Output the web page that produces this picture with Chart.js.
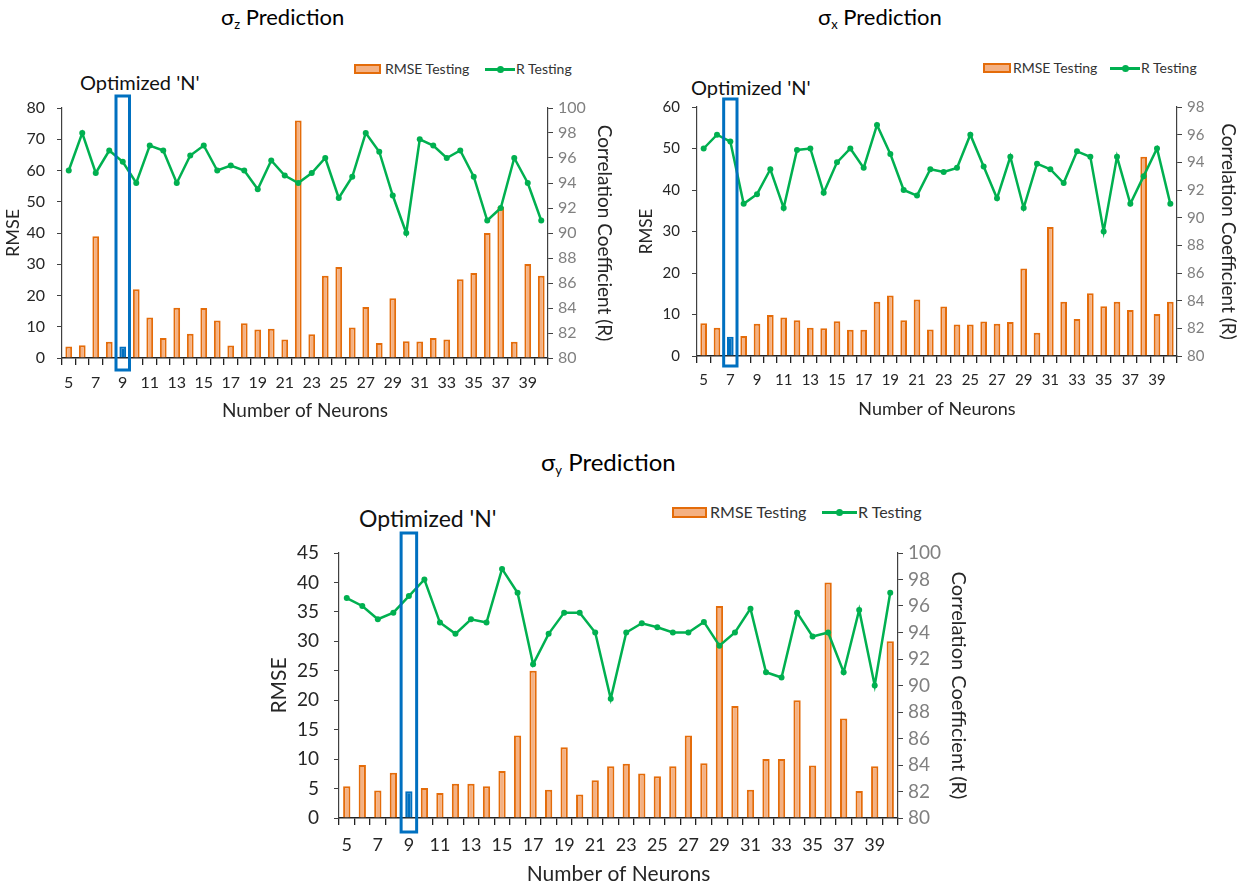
<!DOCTYPE html>
<html>
<head>
<meta charset="utf-8">
<script src="https://cdn.jsdelivr.net/npm/chart.js@4.4.0/dist/chart.umd.min.js"></script>
<style>
  body { margin: 0; width: 1246px; height: 888px; position: relative; background: #fff; overflow: hidden;
         font-family: Lato, "Open Sans", sans-serif; }
  canvas { position: absolute; }
  .txt { position: absolute; white-space: nowrap; color: #000; line-height: 1; }
  .title { font-size: 22px; }
  .title sub { font-size: 13px; vertical-align: -4px; }
  .opt { font-size: 20px; color: #111; }
  .sw { position: absolute; box-sizing: border-box; background: #F4B183; border: 2px solid #E46C0A; }
  .ln { position: absolute; height: 3px; background: #00B050; }
  .ln::after { content: ""; position: absolute; left: 50%; top: 50%; width: 7px; height: 7px; margin: -3.5px 0 0 -3.5px;
               border-radius: 50%; background: #00B050; }
  .lg { position: absolute; font-size: 14px; color: #333; white-space: nowrap; line-height: 1; }
</style>
</head>
<body>

<div class="txt title" style="left:221px;top:6px">σ<sub>z</sub> Prediction</div>
<div class="txt title" style="left:818px;top:6px">σ<sub>x</sub> Prediction</div>
<div class="txt title" style="left:541px;top:450px;font-size:24px">σ<sub>y</sub> Prediction</div>

<div class="txt opt" style="left:80px;top:72px">Optimized 'N'</div>
<div class="txt opt" style="left:691px;top:77px">Optimized 'N'</div>
<div class="txt opt" style="left:359px;top:507px;font-size:23px">Optimized 'N'</div>

<div class="sw" style="left:354px;top:64px;width:27px;height:10px"></div>
<div class="lg" style="left:385px;top:62px">RMSE Testing</div>
<div class="ln" style="left:485px;top:68px;width:30px"></div>
<div class="lg" style="left:516px;top:62px">R Testing</div>

<div class="sw" style="left:983px;top:63px;width:28px;height:10px"></div>
<div class="lg" style="left:1013px;top:61px">RMSE Testing</div>
<div class="ln" style="left:1110px;top:67px;width:30px"></div>
<div class="lg" style="left:1141px;top:61px">R Testing</div>

<div class="sw" style="left:672px;top:507px;width:35px;height:11px"></div>
<div class="lg" style="left:710px;top:504px;font-size:16px">RMSE Testing</div>
<div class="ln" style="left:822px;top:511px;width:35px"></div>
<div class="lg" style="left:858px;top:504px;font-size:16px">R Testing</div>

<canvas id="cz" width="620" height="345" style="left:0;top:85px"></canvas>
<canvas id="cx" width="621" height="350" style="left:625px;top:80px"></canvas>
<canvas id="cy" width="740" height="358" style="left:255px;top:530px"></canvas>

<script>
// number of neurons (categories)
const neurons = [5, 6, 7, 8, 9, 10, 11, 12, 13, 14, 15, 16, 17, 18, 19, 20, 21, 22,
                 23, 24, 25, 26, 27, 28, 29, 30, 31, 32, 33, 34, 35, 36, 37, 38, 39, 40];

// sigma z
const rmseZ = [3.7, 4.1, 39, 5.2, 3.7, 22, 13, 6.4, 16.1, 7.8, 16, 12, 4, 11.1, 9.1, 9.4, 5.9, 76,
               7.6, 26.3, 29.1, 9.8, 16.3, 4.8, 19.1, 5.4, 5.3, 6.4, 5.9, 25.2, 27.2, 40, 48.3, 5.2, 30.1, 26.3];
const rZ = [95, 98, 94.8, 96.6, 95.7, 94, 97, 96.6, 94, 96.2, 97, 95, 95.4, 95, 93.5, 95.8, 94.6, 94,
            94.8, 96, 92.8, 94.5, 98, 96.5, 93, 90, 97.5, 97, 96, 96.6, 94.5, 91, 92, 96, 94, 91];
const optZ = 9;

// sigma x
const rmseX = [7.9, 6.8, 4.65, 4.8, 7.8, 9.9, 9.3, 8.6, 6.8, 6.7, 8.4, 6.3, 6.3, 13.1, 14.6, 8.6, 13.6, 6.4,
               11.9, 7.6, 7.6, 8.3, 7.8, 8.2, 21.1, 5.6, 31.1, 13.1, 8.9, 15.1, 12, 13.1, 11.1, 48, 10.1, 13.1];
const rX = [95, 96, 95.5, 91, 91.7, 93.5, 90.7, 94.9, 95, 91.8, 94, 95, 93.6, 96.7, 94.6, 92, 91.6, 93.5,
            93.3, 93.6, 96, 93.7, 91.4, 94.4, 90.7, 93.9, 93.5, 92.5, 94.8, 94.4, 89, 94.4, 91, 93, 95, 91];
const optX = 7;

// sigma y
const rmseY = [5.4, 9, 4.65, 7.7, 4.55, 5.1, 4.26, 5.8, 5.8, 5.4, 8, 14, 25, 4.8, 12, 4, 6.4,
               8.8, 9.2, 7.55, 7.1, 8.8, 14, 9.3, 36, 19, 4.8, 10, 10, 20, 8.9, 40, 16.9, 4.6, 8.8, 30];
const rY = [96.6, 96, 95, 95.5, 96.75, 98, 94.75, 93.9, 95, 94.75, 98.8, 97, 91.6, 93.9, 95.5, 95.5, 94,
            89, 94, 94.7, 94.4, 94, 94, 94.8, 93, 94, 95.8, 91, 90.6, 95.5, 93.7, 94, 91, 95.7, 90, 97];
const optY = 9;

const FONT = 'Lato, "Open Sans", sans-serif';
const ORANGE = '#E46C0A', ORANGE_FILL = '#F4B183', BLUE = '#0070C0', GREEN = '#00B050';

// blue frame around the optimized neuron count
const optBox = {
  id: 'optBox',
  afterDatasetsDraw(chart, args, o) {
    const x = chart.scales.x;
    const i = chart.data.labels.indexOf(o.n);
    const cx = x.getPixelForValue(i);
    const half = x.width / chart.data.labels.length / 2;
    const a = chart.chartArea;
    const ctx = chart.ctx;
    ctx.save();
    ctx.strokeStyle = BLUE;
    ctx.lineWidth = 3;
    ctx.strokeRect(cx - half, a.top - o.above, half * 2, a.bottom - a.top + o.above + o.below);
    ctx.restore();
  }
};

function makeChart(id, rmse, r, optN, s) {
  const fill = neurons.map(n => n === optN ? BLUE : ORANGE_FILL);
  const edge = neurons.map(n => n === optN ? BLUE : ORANGE);
  // fixed axis sizes so the plot area lands where the figure has it
  const fitY = w => sc => { sc.width = w; sc.paddingTop = 0; sc.paddingBottom = 0; };
  return new Chart(document.getElementById(id), {
    data: {
      labels: neurons,
      datasets: [
        { type: 'line', label: 'R Testing', data: r, yAxisID: 'y1', order: 1,
          borderColor: GREEN, backgroundColor: GREEN, borderWidth: 2.5,
          pointRadius: 3, pointBackgroundColor: GREEN, pointBorderWidth: 0, tension: 0 },
        { type: 'bar', label: 'RMSE Testing', data: rmse, yAxisID: 'y', order: 2,
          backgroundColor: fill, borderColor: edge, borderWidth: 2,
          barPercentage: s.bar, categoryPercentage: 1 }
      ]
    },
    options: {
      responsive: false,
      animation: false,
      devicePixelRatio: 1,
      layout: { padding: { top: s.top, left: 0, right: 0, bottom: 0 } },
      plugins: {
        legend: { display: false },
        tooltip: { enabled: false },
        optBox: { n: optN, above: s.above, below: s.below }
      },
      scales: {
        x: {
          type: 'category',
          offset: true,
          grid: { offset: true, drawOnChartArea: false, tickLength: 7, color: '#222', lineWidth: 1.3 },
          border: { color: '#222', width: 1.5 },
          ticks: { autoSkip: false, maxRotation: 0, padding: s.xpad, color: '#262626',
                   font: { family: FONT, size: s.tick },
                   callback: (v, i) => i % 2 === 0 ? neurons[i] : '' },
          title: { display: true, text: 'Number of Neurons', color: '#262626',
                   font: { family: FONT, size: s.xt }, padding: { top: 0, bottom: s.xtb } },
          afterFit: sc => { sc.height = s.xh; }
        },
        y: {
          position: 'left', min: 0, max: s.ymax,
          grid: { drawOnChartArea: false, tickLength: 5, color: '#404040' },
          border: { color: '#404040', width: 1.2 },
          ticks: { stepSize: s.ystep, autoSkip: false, padding: s.ypad, color: '#262626',
                   font: { family: FONT, size: s.ytick } },
          title: { display: true, text: 'RMSE', color: '#262626',
                   font: { family: FONT, size: s.yt }, padding: { top: s.ytp, bottom: 0 } },
          afterFit: fitY(s.lw)
        },
        y1: {
          position: 'right', min: 80, max: s.rmax,
          grid: { drawOnChartArea: false, tickLength: 5, color: '#404040' },
          border: { color: '#404040', width: 1.2 },
          ticks: { stepSize: 2, autoSkip: false, padding: 5, color: '#808080',
                   font: { family: FONT, size: s.ytick } },
          title: { display: true, text: 'Correlation Coefficient (R)', color: '#262626',
                   font: { family: FONT, size: s.rt }, padding: { top: s.rtp, bottom: 0 } },
          afterFit: fitY(s.rw)
        }
      }
    },
    plugins: [optBox]
  });
}

makeChart('cz', rmseZ, rZ, optZ, {
  top: 23, lw: 62, rw: 72, xh: 72, ymax: 80, ystep: 10, rmax: 100, bar: 0.5,
  tick: 16, ytick: 16, xpad: 8, ypad: 12, xt: 19, xtb: 8, yt: 18, ytp: 2, rt: 19, rtp: 4,
  above: 12, below: 12
});

makeChart('cx', rmseX, rX, optX, {
  top: 27, lw: 72, rw: 69, xh: 74, ymax: 60, ystep: 10, rmax: 98, bar: 0.5,
  tick: 15, ytick: 15, xpad: 8, ypad: 12, xt: 18, xtb: 10, yt: 17, ytp: 11, rt: 19, rtp: 6,
  above: 8, below: 10
});

makeChart('cy', rmseY, rY, optY, {
  top: 23, lw: 84, rw: 97, xh: 70, ymax: 45, ystep: 5, rmax: 100, bar: 0.47,
  tick: 18, ytick: 19, xpad: 9, ypad: 15, xt: 21, xtb: 1, yt: 21, ytp: 12, rt: 20, rtp: 25,
  above: 20, below: 14
});
</script>
</body>
</html>
